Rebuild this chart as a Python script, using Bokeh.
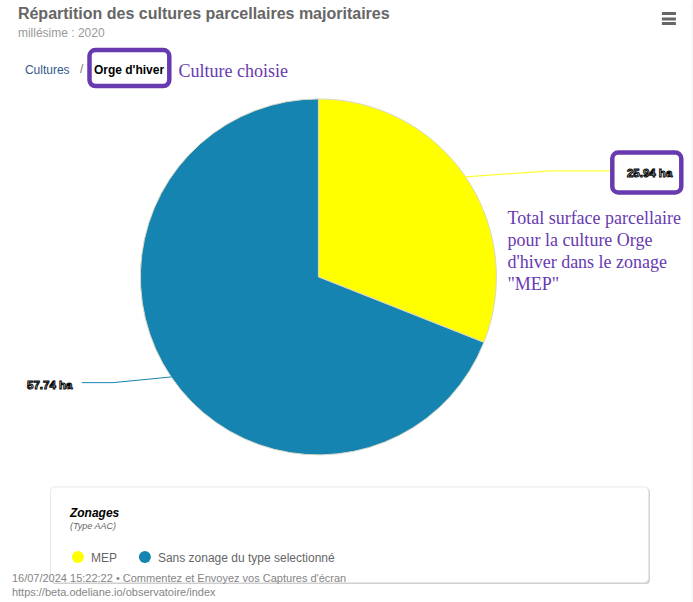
import math
from bokeh.plotting import figure
from bokeh.models import BoxAnnotation
from bokeh.core.properties import value
from bokeh.embed import file_html
from bokeh.resources import INLINE

# --- data
zones = ["MEP", "Sans zonage du type selectionné"]
surfaces = [25.94, 57.74]
zone_colors = ["#ffff00", "#1684b0"]
title = "Répartition des cultures parcellaires majoritaires"
subtitle = "millésime : 2020"
crumbs = ["Cultures", "/", "Orge d'hiver"]
note_culture = "Culture choisie"
note_total = ["Total surface parcellaire", "pour la culture Orge", "d'hiver dans le zonage", '"MEP"']
legend_title = "Zonages"
legend_sub = "(Type AAC)"
footer = ["16/07/2024 15:22:22 • Commentez et Envoyez vos Captures d'écran",
          "https://beta.odeliane.io/observatoire/index"]

W, H = 693, 602
PURPLE = "#673ab0"
Y = lambda py: H - py

p = figure(width=W, height=H, x_range=(0.6, W + 0.6), y_range=(-0.6, H - 0.6), output_backend="svg",
           toolbar_location=None, x_axis_location=None, y_axis_location=None,
           min_border=0, outline_line_color=None)
p.grid.visible = False
p.background_fill_color = "#ffffff"
p.border_fill_color = "#ffffff"


def text(x, py, s, size=12, color="#666666", font="Liberation Sans", style="normal", **kw):
    p.text([x], [Y(py)], text=[s], text_font=value(font), text_font_size=f"{size}px", text_color=color,
           text_font_style=style, text_baseline="middle", text_align=kw.pop("align", "left"), **kw)


def box(l, r, t, b, **kw):
    kw.setdefault("fill_alpha", 1)
    kw.setdefault("line_alpha", 1)
    p.add_layout(BoxAnnotation(left=l, right=r, top=Y(t), bottom=Y(b),
                               top_units="data", bottom_units="data", left_units="data", right_units="data", **kw))


# right page gutter
box(691.6, 695, 0, 604, fill_color="#f4f4f4", line_color=None)

# legend card (behind everything else)
box(51.5, 650, 488, 584, fill_color="#cfcfcf", line_color=None, border_radius=4, level="underlay")
box(50.5, 648.5, 487, 582.5, fill_color="#ffffff", line_color="#e8e8e8", line_width=1, border_radius=4, level="underlay")

# pie from the values
CX, CY, R = 318.5, 277, 178
total = sum(surfaces)
cum = 0
mids = []
for v, c in zip(surfaces, zone_colors):
    a0 = math.pi / 2 - 2 * math.pi * cum / total
    a1 = math.pi / 2 - 2 * math.pi * (cum + v) / total
    mid = (a0 + a1) / 2
    mids.append(mid)
    p.wedge(x=[CX], y=[Y(CY)], radius=R, start_angle=[a1], end_angle=[a0], direction="anticlock",
            fill_color=c, line_color="#d8d8c8", line_width=1)
    cum += v

# leader lines and value labels
for i, (v, c, mid) in enumerate(zip(surfaces, zone_colors, mids)):
    sx = CX + R * math.cos(mid)
    sy = CY - R * math.sin(mid)
    if i == 0:
        xs, ys = [sx, 550, 610], [sy, sy - 6, sy - 6]
        lx, ly, al = 627, 173, "left"
    else:
        xs, ys = [sx, 113, 82], [sy, sy + 5.7, sy + 5.7]
        lx, ly, al = 72.5, 385.5, "right"
    p.line(xs, [Y(q) for q in ys], line_color=c, line_width=1.2 if i == 0 else 1, line_alpha=0.8 if i == 0 else 1)
    p.text([lx], [Y(ly)], text=[f"{v:.2f} ha"], text_font=value("Liberation Sans"), text_font_size="11.5px",
           text_font_style="bold", text_color="#ffffff", text_align=al, text_baseline="middle",
           text_outline_color="#000000")

# headings
text(18, 13.5, title, size=16, style="bold")
text(18, 33.5, subtitle, size=12, color="#999999")
text(25, 70, crumbs[0], size=12, color="#33578a")
text(80, 69, crumbs[1], size=12, color="#777777")
text(94, 70, crumbs[2], size=12, color="#000000", style="bold")
text(178.5, 71, note_culture, size=18, color=PURPLE, font="Liberation Serif")
for i, s in enumerate(note_total):
    text(507.5, 218 + i * 22, s, size=18, color=PURPLE, font="Liberation Serif")

# highlight frames
box(89.6, 169.4, 50.2, 86.2, fill_color=None, line_color=PURPLE, line_width=4.5, border_radius=6)
box(612.4, 681.4, 152.6, 192.6, fill_color=None, line_color=PURPLE, line_width=4.5, border_radius=6)

# menu icon
for t in (12, 17.5, 22):
    box(662, 676, t, t + 3.2, fill_color="#666666", line_color=None)

# legend contents
text(70, 513, legend_title, size=12, color="#000000", style="bold italic")
text(70, 526, legend_sub, size=9, color="#666666", style="italic")
mx = [78, 145]
tx = [91, 158]
for m, t, z, c in zip(mx, tx, zones, zone_colors):
    p.scatter([m], [Y(557)], size=12, fill_color=c, line_color=None)
    text(t, 558, z, size=12)

# footer
for i, s in enumerate(footer):
    text(12, 578 + i * 14.5, s, size=11, color="#858585")

open("out.html", "w").write(file_html(p, INLINE))
